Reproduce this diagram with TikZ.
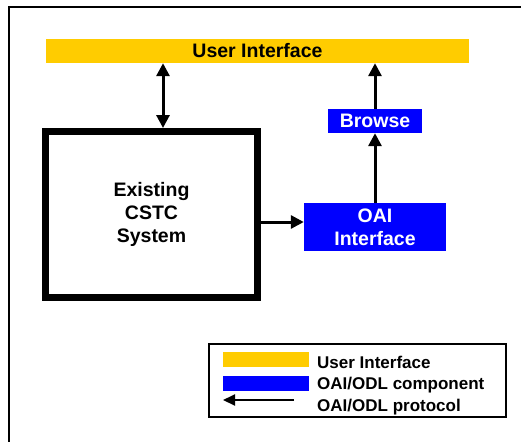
\documentclass[tikz,border=0pt]{standalone}
\usepackage{fontspec}
\setmainfont{Liberation Sans}
\usetikzlibrary{arrows.meta}
\definecolor{uiyellow}{HTML}{FFCC00}
\definecolor{oaiblue}{HTML}{0000FF}
\tikzset{
  big/.style={font=\bfseries\fontsize{19.5}{23}\selectfont},
  small/.style={font=\bfseries\fontsize{17}{20}\selectfont},
  uibar/.style={fill=uiyellow, inner sep=0pt, big, text=black},
  oaibox/.style={fill=oaiblue, inner sep=0pt, big, text=white, align=center},
  sysbox/.style={draw=black, line width=7pt, inner sep=0pt, big, align=center},
  link/.style={line width=3pt, -{Triangle[length=13pt,width=13pt]}},
  link2/.style={line width=3pt, {Triangle[length=13pt,width=13pt]}-{Triangle[length=13pt,width=13pt]}},
  legtext/.style={small, anchor=base west, inner sep=0pt},
}
\begin{document}
\begin{tikzpicture}[x=1pt, y=-1pt]
  \useasboundingbox (0,0) rectangle (521,441);
  \fill[white] (0,0) rectangle (521,441);
  \begin{scope}
    \clip (0,0) rectangle (521,441);
    % outer frame, running off the right and bottom edges
    \draw[line width=2pt] (9,7) rectangle (540,460);
  \end{scope}

  % blocks
  \node[uibar, minimum width=423pt, minimum height=24pt] (ui) at (257.5,51) {User Interface};
  \node[sysbox, minimum width=212pt, minimum height=166pt] (sys) at (151.5,214.5) {Existing\\CSTC\\System};
  \node[oaibox, minimum width=94pt, minimum height=24pt] (browse) at (375,121) {Browse};
  \node[oaibox, minimum width=142pt, minimum height=48pt] (oai) at (375,227) {OAI\\Interface};

  % connectors
  \coordinate (ux) at (163,0);
  \coordinate (oy) at (0,222);
  \draw[link2] (ui.south -| ux) -- (sys.north -| ux);
  \draw[link] (browse.north) -- (browse.north |- ui.south);
  \draw[link] (oai.north) -- (browse.south);
  \draw[link] (sys.east |- oy) -- (oai.west |- oy);

  % legend
  \node[draw=black, line width=1.5pt, minimum width=297pt, minimum height=73pt, inner sep=0pt] (leg) at (357.5,380.5) {};
  \node[fill=uiyellow, minimum width=86pt, minimum height=15pt, inner sep=0pt] (lsw1) at (266,359.5) {};
  \node[fill=oaiblue, minimum width=86pt, minimum height=15pt, inner sep=0pt] (lsw2) at (266,383.5) {};
  \coordinate (la) at (294,400);
  \coordinate (lb) at (223,400);
  \draw[line width=2pt, -{Triangle[length=12pt,width=11pt]}] (la) -- (lb);
  \node[legtext] (lt1) at (317,368) {User Interface};
  \node[legtext] (lt2) at (317,389) {OAI/ODL component};
  \node[legtext] (lt3) at (317,411) {OAI/ODL protocol};
\end{tikzpicture}
\end{document}
